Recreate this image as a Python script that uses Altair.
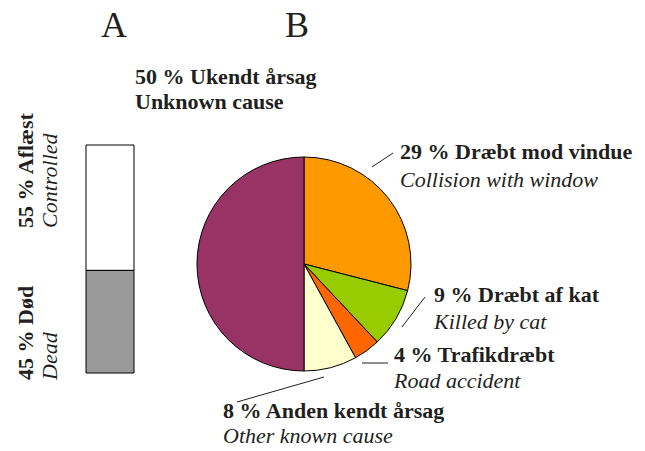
import altair as alt
import pandas as pd

# ---- data ----
cause_da = ["Dræbt mod vindue", "Dræbt af kat", "Trafikdræbt", "Anden kendt årsag", "Ukendt årsag"]
cause_en = ["Collision with window", "Killed by cat", "Road accident", "Other known cause", "Unknown cause"]
cause_pct = [29, 9, 4, 8, 50]
cause_colors = ["#FF9900", "#99CC00", "#FF6600", "#FFFFCC", "#993366"]

status_da = ["Aflæst", "Død"]
status_en = ["Controlled", "Dead"]
status_pct = [55, 45]
status_colors = ["#FFFFFF", "#999999"]

panel_titles = ["A", "B"]

FONT = "Liberation Serif"
OFF = 8  # page margin

pie_df = pd.DataFrame({"cause": cause_da, "pct": cause_pct, "idx": list(range(len(cause_da)))})
bar_df = pd.DataFrame({"status": status_da, "pct": status_pct, "idx": [1, 0]})
one = pd.DataFrame({"a": [0]})


def P(v):
    return alt.value(v - OFF)


pie = alt.Chart(pie_df).mark_arc(outerRadius=107, stroke="black", strokeWidth=1).encode(
    theta=alt.Theta("pct:Q", stack=True),
    color=alt.Color("cause:N", scale=alt.Scale(domain=cause_da, range=cause_colors), legend=None),
    order=alt.Order("idx:Q"),
    x=P(304), y=P(264),
)

bar = alt.Chart(bar_df).transform_stack(
    stack="pct", as_=["lo", "hi"], groupby=[], sort=[alt.SortField("idx", order="ascending")]
).mark_rect(stroke="black", strokeWidth=1).encode(
    y=alt.Y("lo:Q", scale=alt.Scale(domain=[0, 100], range=[373 - OFF, 145 - OFF]), axis=None),
    y2="hi:Q",
    color=alt.Color("status:N", scale=alt.Scale(domain=status_da, range=status_colors), legend=None),
    x=P(86), x2=P(134),
)


def txt(s, x, y, size=22, bold=True, italic=False, angle=0, align="left"):
    kw = dict(text=s, fontSize=size, font=FONT, align=align, baseline="alphabetic",
              fontWeight="bold" if bold else "normal",
              fontStyle="italic" if italic else "normal", color="#231F20")
    if angle:
        kw["angle"] = angle
    return alt.Chart(one).mark_text(**kw).encode(x=P(x), y=P(y))


def rule(x1, y1, x2, y2):
    return alt.Chart(one).mark_rule(color="#231F20", strokeWidth=1).encode(
        x=P(x1), y=P(y1), x2=P(x2), y2=P(y2))


layers = [bar, pie]
# panel titles
layers += [txt(panel_titles[0], 114, 37, size=36, bold=False, align="center"),
           txt(panel_titles[1], 297, 37, size=36, bold=False, align="center")]
# bar labels (rotated)
layers += [txt(f"{status_pct[0]} % {status_da[0]}", 33, 228, angle=270),
           txt(status_en[0], 57, 228, bold=False, italic=True, angle=270),
           txt(f"{status_pct[1]} % {status_da[1]}", 33, 380, angle=270),
           txt(status_en[1], 57, 380, bold=False, italic=True, angle=270)]
# pie labels
label_pos = [(400, 159, 187), (434, 302, 329), (394, 362, 388), (223, 418, 443)]
for i, (lx, by, iy) in enumerate(label_pos):
    layers.append(txt(f"{cause_pct[i]} % {cause_da[i]}", lx, by))
    layers.append(txt(cause_en[i], lx, iy, bold=False, italic=True))
layers.append(txt(f"{cause_pct[4]} % {cause_da[4]}", 135, 84))
layers.append(txt(cause_en[4], 135, 109))
# leader lines
layers += [rule(372, 167, 393, 153), rule(402, 327, 425, 297),
           rule(362, 363, 388, 363), rule(237, 402, 324, 377)]

chart = alt.layer(*layers).resolve_scale(color="independent").properties(
    width=645 - 2 * OFF, height=451 - 2 * OFF, padding=0, autosize="none"
).configure_view(stroke=None)

chart.save("out.html", embed_options={"renderer": "svg", "actions": False})
